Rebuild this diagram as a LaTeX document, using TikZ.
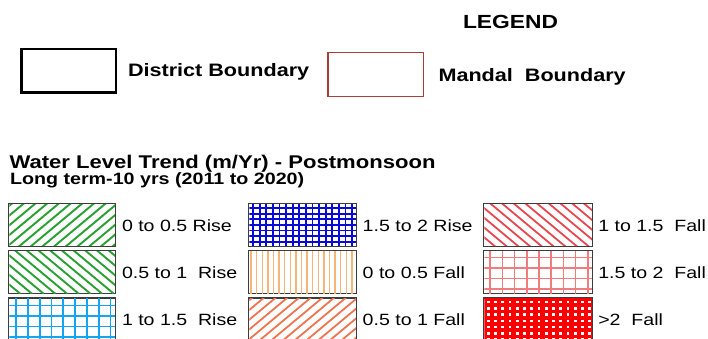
\documentclass[tikz,border=0pt]{standalone}
\usepackage{fontspec}
\usetikzlibrary{calc}
\setmainfont[FakeStretch=1.2]{Liberation Sans}
\definecolor{bordergray}{RGB}{60,60,60}
\definecolor{mandalred}{RGB}{170,60,60}
\definecolor{hgreen}{RGB}{40,160,50}
\definecolor{lblue}{RGB}{20,165,240}
\definecolor{dblue}{RGB}{10,10,215}
\definecolor{lorange}{RGB}{245,180,120}
\definecolor{orred}{RGB}{240,115,80}
\definecolor{rdiag}{RGB}{232,70,80}
\definecolor{pinkgrid}{RGB}{240,125,125}
\definecolor{dotred}{RGB}{250,0,0}
% clip to the inside of a swatch node
\newcommand{\swclip}[1]{\clip ($(#1.south west)+(0.65,-0.65)$) rectangle ($(#1.north east)+(-0.65,0.65)$);}
% node, colour, width, step
\newcommand{\hatchne}[4]{\begin{scope}\swclip{#1}
  \foreach \i in {0,...,22}{\draw[#2, line width=#3] ($(#1.south west)+(\i*#4-60,0)$) -- ++(60,-50);}\end{scope}}
\newcommand{\hatchnw}[4]{\begin{scope}\swclip{#1}
  \foreach \i in {0,...,22}{\draw[#2, line width=#3] ($(#1.south west)+(\i*#4,0)$) -- ++(-60,-50);}\end{scope}}
\newcommand{\vhatch}[4]{\begin{scope}\swclip{#1}
  \foreach \i in {0,...,24}{\draw[#2, line width=#3] ($(#1.north west)+(\i*#4+2.5,0)$) -- ++(0,50);}\end{scope}}
% node, colour, width, dx, dy, offset
\newcommand{\gridfill}[6]{\begin{scope}\swclip{#1}
  \foreach \i in {0,...,24}{\draw[#2, line width=#3] ($(#1.north west)+(\i*#4+#6,-2)$) -- ++(0,50);}
  \foreach \j in {0,...,12}{\draw[#2, line width=#3] ($(#1.north west)+(-2,\j*#5+#6)$) -- ++(120,0);}\end{scope}}
\newcommand{\redsquares}[1]{\begin{scope}\swclip{#1}
  \fill[dotred] (#1.south west) rectangle (#1.north east);
  \foreach \i in {0,...,16}{\foreach \j in {0,...,7}{%
    \fill[white] ($(#1.north west)+(\i*7.25+3.2,\j*6.3+2.6)$) rectangle ++(2.8,2.6);}}\end{scope}}
\begin{document}
\begin{tikzpicture}[x=1pt,y=-1pt,
  txt/.style={anchor=base west, inner sep=0pt, outer sep=0pt},
  bold19/.style={txt, font=\fontsize{19}{22}\selectfont\bfseries},
  bold18/.style={txt, font=\fontsize{18}{21}\selectfont\bfseries},
  lab/.style={txt, font=\fontsize{16.3}{19}\selectfont},
  swbox/.style={draw=bordergray, line width=1.3pt, minimum height=43pt, inner sep=0pt, outer sep=0pt, anchor=north west},
]
\useasboundingbox (0,0) rectangle (708,339);

% Legend header
\node[bold19] (legend) at (463,28.5) {LEGEND};
\node[draw=black, line width=2.5pt, minimum width=94.5pt, minimum height=43.5pt, inner sep=0pt] (district) at (68.5,71) {};
\node[bold18] (districtlab) at (128,76.5) {District Boundary};
\node[draw=mandalred, line width=1.5pt, minimum width=95.3pt, minimum height=44pt, inner sep=0pt] (mandal) at (375.7,74.5) {};
\node[bold18] (mandallab) at (438.5,81.5) {Mandal\ \ Boundary};

% Titles
\node[txt, font=\fontsize{18.4}{21}\selectfont\bfseries] (title) at (9.5,168.5) {Water Level Trend (m/Yr) - Postmonsoon};
\node[txt, font=\fontsize{16.4}{19}\selectfont\bfseries] (subtitle) at (10,184.5) {Long term-10 yrs (2011 to 2020)};

% Column 1
\node[swbox, minimum width=107pt] (s1) at (8.6,203.6) {};
\node[swbox, minimum width=107pt] (s2) at (8.6,250.8) {};
\node[swbox, minimum width=107pt] (s3) at (8.6,298) {};
\hatchne{s1}{hgreen}{1.9pt}{11.7}
\hatchnw{s2}{hgreen}{1.9pt}{11.7}
\gridfill{s3}{lblue}{1.7pt}{11.8}{10.5}{7.5}
\node[lab] (l1) at (122,231) {0 to 0.5 Rise};
\node[lab] (l2) at (122,278.3) {0.5 to 1\ \ Rise};
\node[lab] (l3) at (122,325.7) {1 to 1.5\ \ Rise};

% Column 2
\node[swbox, minimum width=108pt] (s4) at (248.6,203.6) {};
\node[swbox, minimum width=108pt] (s5) at (248.6,250.8) {};
\node[swbox, minimum width=108pt] (s6) at (248.6,298) {};
\gridfill{s4}{dblue}{1.7pt}{6.6}{5.6}{4.5}
\vhatch{s5}{lorange}{1.4pt}{5.6}
\hatchne{s6}{orred}{1.8pt}{11.7}
\node[lab] (l4) at (362.7,231) {1.5 to 2 Rise};
\node[lab] (l5) at (362.7,278.3) {0 to 0.5 Fall};
\node[lab] (l6) at (362.7,325.7) {0.5 to 1 Fall};

% Column 3
\node[swbox, minimum width=109pt] (s7) at (483.6,203.6) {};
\node[swbox, minimum width=109pt] (s8) at (483.6,250.8) {};
\node[swbox, minimum width=109pt] (s9) at (483.6,298) {};
\hatchnw{s7}{rdiag}{1.8pt}{11.7}
\gridfill{s8}{pinkgrid}{1.6pt}{12.2}{10.5}{6.5}
\redsquares{s9}
\node[lab] (l7) at (598.3,231) {1 to 1.5\ \ Fall};
\node[lab] (l8) at (598.3,278.3) {1.5 to 2\ \ Fall};
\node[lab] (l9) at (598.3,325.7) {>2\ \ Fall};
\end{tikzpicture}
\end{document}
